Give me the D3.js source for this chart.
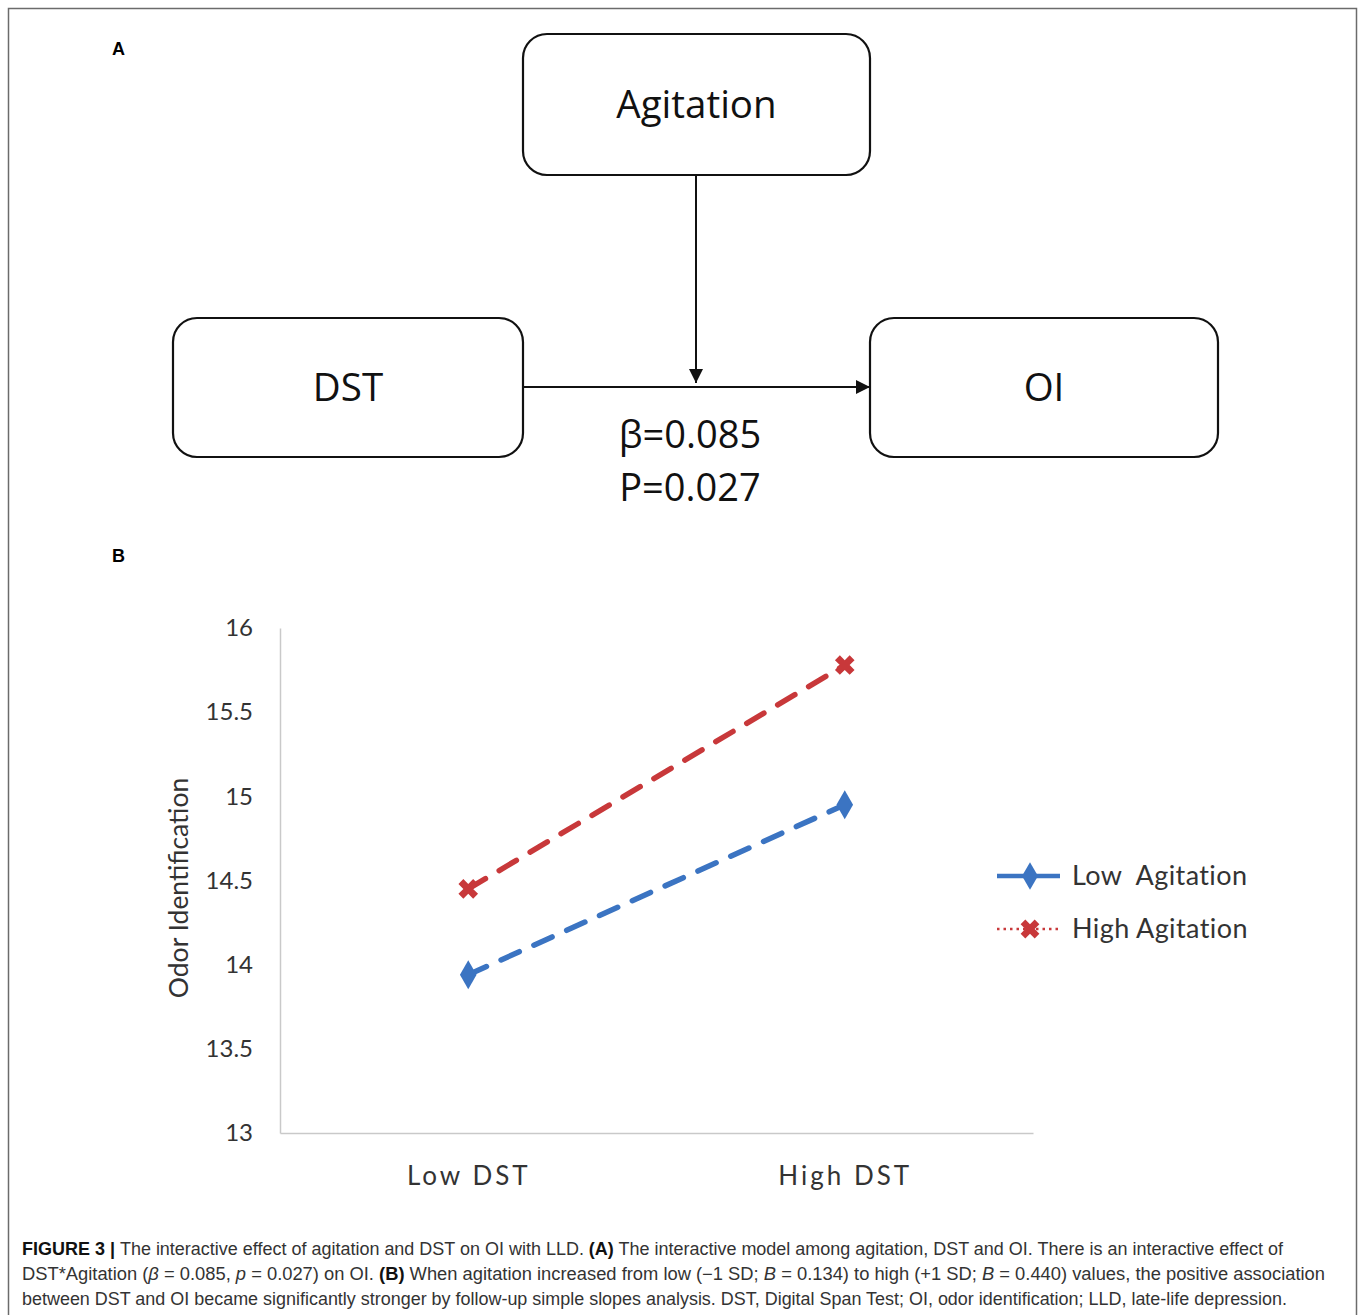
<!DOCTYPE html>
<meta charset="utf-8">
<style>
body { margin: 0; background: #fff; }
.axis path, .axis line { stroke: #c9c9c9; }
.box { fill: #fff; stroke: #111; stroke-width: 2.2; }
.diag { font-family: "Open Sans", "Noto Sans", sans-serif; fill: #111; }
.cap { font-family: "Liberation Sans Narrow", "Liberation Sans", Arial, sans-serif; font-size: 17.5px; fill: #333; }
</style>
<svg width="1360" height="1315"></svg>
<script src="https://cdn.jsdelivr.net/npm/d3@7"></script>
<script>

var categories = ["Low DST", "High DST"],
    lowAgitation = [13.94, 14.95],
    highAgitation = [14.45, 15.78],
    yTicks = [13, 13.5, 14, 14.5, 15, 15.5, 16];

var series = [
  {name: "Low  Agitation", values: lowAgitation, color: "#3b74c2", symbol: d3.symbolDiamond, rot: 0},
  {name: "High Agitation", values: highAgitation, color: "#c8383a", symbol: d3.symbolCross, rot: 45}
];

var svg = d3.select("svg");

// frame
svg.append("path")
    .attr("d", "M8.5,1315 V8.5 H1356.5 V1315")
    .attr("fill", "none")
    .attr("stroke", "#6b6b6b")
    .attr("stroke-width", 1.5);

svg.append("defs").append("marker")
    .attr("id", "arrow")
    .attr("viewBox", "0 0 10 10")
    .attr("refX", 10).attr("refY", 5)
    .attr("markerWidth", 14).attr("markerHeight", 14)
    .attr("markerUnits", "userSpaceOnUse")
    .attr("orient", "auto")
  .append("path")
    .attr("d", "M0,0 L10,5 L0,10 z")
    .attr("fill", "#111");

// panel letters
svg.selectAll(".panel")
  .data([["A", 49], ["B", 556]])
  .enter().append("text")
    .attr("x", 112).attr("y", function(d) { return d[1]; })
    .attr("dy", "0.35em")
    .style("font-family", "Liberation Sans, Arial, sans-serif")
    .style("font-weight", "bold")
    .style("font-size", "18px")
    .text(function(d) { return d[0]; });

// ---- panel A: moderation diagram
var boxes = [
  {label: "Agitation", x: 523, y: 34, w: 347, h: 141},
  {label: "DST", x: 173, y: 318, w: 350, h: 139},
  {label: "OI", x: 870, y: 318, w: 348, h: 139}
];

svg.selectAll(".box")
  .data(boxes)
  .enter().append("rect")
    .attr("class", "box")
    .attr("x", function(d) { return d.x; })
    .attr("y", function(d) { return d.y; })
    .attr("width", function(d) { return d.w; })
    .attr("height", function(d) { return d.h; })
    .attr("rx", 24);

svg.selectAll(".boxlabel")
  .data(boxes)
  .enter().append("text")
    .attr("class", "diag")
    .attr("x", function(d) { return d.x + d.w / 2; })
    .attr("y", function(d) { return d.y + d.h / 2; })
    .attr("dy", "0.35em")
    .attr("text-anchor", "middle")
    .style("font-size", "38.5px")
    .text(function(d) { return d.label; });

svg.append("line")
    .attr("x1", 523).attr("y1", 387).attr("x2", 870).attr("y2", 387)
    .attr("stroke", "#111").attr("stroke-width", 2)
    .attr("marker-end", "url(#arrow)");

svg.append("line")
    .attr("x1", 696).attr("y1", 175).attr("x2", 696).attr("y2", 383)
    .attr("stroke", "#111").attr("stroke-width", 2)
    .attr("marker-end", "url(#arrow)");

svg.selectAll(".stat")
  .data([["β=0.085", 435], ["P=0.027", 488]])
  .enter().append("text")
    .attr("class", "diag")
    .attr("x", 690).attr("y", function(d) { return d[1]; })
    .attr("dy", "0.35em")
    .attr("text-anchor", "middle")
    .style("font-size", "38px")
    .text(function(d) { return d[0]; });

// ---- panel B: simple slopes
var margin = {top: 628, left: 280},
    width = 753,
    height = 505;

var x = d3.scalePoint().domain(categories).range([0, width]).padding(0.5),
    y = d3.scaleLinear().domain([13, 16]).range([height, 0]);

var g = svg.append("g")
    .attr("transform", "translate(" + margin.left + "," + margin.top + ")");

var tickFont = "Lato, 'Open Sans', sans-serif";

g.append("g")
    .attr("class", "axis")
    .call(d3.axisLeft(y).tickValues(yTicks).tickSize(0).tickPadding(27).tickFormat(d3.format("")))
    .call(function(a) { a.select(".domain").attr("stroke-width", 1.5); })
    .selectAll("text")
      .style("font-family", tickFont)
      .style("font-size", "24px")
      .style("fill", "#333");

g.append("g")
    .attr("class", "axis")
    .attr("transform", "translate(0," + height + ")")
    .call(d3.axisBottom(x).tickSize(0).tickPadding(34))
    .call(function(a) { a.select(".domain").attr("stroke-width", 1.5); })
    .selectAll("text")
      .style("font-family", tickFont)
      .style("font-size", "26px")
      .style("letter-spacing", "3px")
      .style("fill", "#333");

g.append("text")
    .attr("transform", "rotate(-90)")
    .attr("x", -260)
    .attr("y", -92)
    .attr("text-anchor", "middle")
    .style("font-family", tickFont)
    .style("font-size", "26.5px")
    .style("fill", "#333")
    .text("Odor Identification");

var line = d3.line()
    .x(function(d, i) { return x(categories[i]); })
    .y(function(d) { return y(d); });

g.selectAll(".series")
  .data(series)
  .enter().append("path")
    .attr("fill", "none")
    .attr("stroke", function(d) { return d.color; })
    .attr("stroke-width", 5.5)
    .attr("stroke-linecap", "round")
    .attr("stroke-dasharray", "20,16")
    .attr("d", function(d) { return line(d.values); });

series.forEach(function(s) {
  g.selectAll(null)
    .data(s.values)
    .enter().append("path")
      .attr("transform", function(d, i) {
        return "translate(" + x(categories[i]) + "," + y(d) + ") rotate(" + s.rot + ")";
      })
      .attr("d", d3.symbol().type(s.symbol).size(240))
      .attr("fill", s.color);
});

// legend
var legend = svg.append("g")
    .attr("transform", "translate(997,876)");

var item = legend.selectAll(".item")
  .data(series)
  .enter().append("g")
    .attr("transform", function(d, i) { return "translate(0," + (i * 53) + ")"; });

item.append("line")
    .attr("x1", 0).attr("x2", 63)
    .attr("stroke", function(d) { return d.color; })
    .attr("stroke-width", function(d, i) { return i ? 2.5 : 4.5; })
    .attr("stroke-dasharray", function(d, i) { return i ? "2.5,4" : null; });

item.append("path")
    .attr("transform", function(d) { return "translate(33,0) rotate(" + d.rot + ")"; })
    .attr("d", function(d) { return d3.symbol().type(d.symbol).size(220)(); })
    .attr("fill", function(d) { return d.color; });

item.append("text")
    .attr("x", 75)
    .attr("dy", "0.35em")
    .style("font-family", tickFont)
    .style("font-size", "27px")
    .style("letter-spacing", "0.4px")
    .style("fill", "#333")
    .style("white-space", "pre")
    .text(function(d) { return d.name; });

// caption
var captionLines = [
  {y: 1255, len: 1261, parts: [["FIGURE 3 | ", "b"], ["The interactive effect of agitation and DST on OI with LLD. "], ["(A)", "b"], [" The interactive model among agitation, DST and OI. There is an interactive effect of"]]},
  {y: 1280, len: 1303, parts: [["DST*Agitation ("], ["β", "i"], [" = 0.085, "], ["p", "i"], [" = 0.027) on OI. "], ["(B)", "b"], [" When agitation increased from low (−1 SD; "], ["B", "i"], [" = 0.134) to high (+1 SD; "], ["B", "i"], [" = 0.440) values, the positive association"]]},
  {y: 1305, len: 1265, parts: [["between DST and OI became significantly stronger by follow-up simple slopes analysis. DST, Digital Span Test; OI, odor identification; LLD, late-life depression."]]}
];

var cap = svg.selectAll(".cap")
  .data(captionLines)
  .enter().append("text")
    .attr("class", "cap")
    .attr("x", 22)
    .attr("y", function(d) { return d.y; })
    .attr("textLength", function(d) { return d.len; })
    .attr("lengthAdjust", "spacingAndGlyphs")
    .style("white-space", "pre");

cap.selectAll("tspan")
  .data(function(d) { return d.parts; })
  .enter().append("tspan")
    .style("font-weight", function(p) { return p[1] === "b" ? "bold" : null; })
    .style("font-style", function(p) { return p[1] === "i" ? "italic" : null; })
    .style("fill", function(p) { return p[1] === "b" ? "#111" : null; })
    .text(function(p) { return p[0]; });

</script>
